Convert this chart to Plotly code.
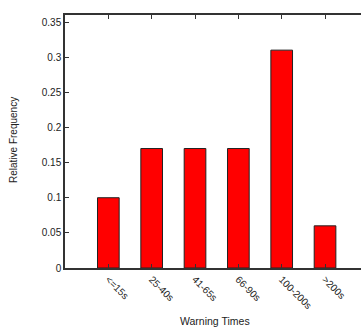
import plotly.graph_objects as go

categories = ["<=15s", "25-40s", "41-65s", "66-90s", "100-200s", ">200s"]
values = [0.10, 0.17, 0.17, 0.17, 0.31, 0.06]
y_ticks = [0, 0.05, 0.1, 0.15, 0.2, 0.25, 0.3, 0.35]
y_labels = ["0", "0.05", "0.1", "0.15", "0.2", "0.25", "0.3", "0.35"]

fig = go.Figure()
fig.add_trace(go.Bar(
    x=list(range(len(categories))), y=values, width=0.5,
    marker=dict(color="#ff0000", line=dict(color="#222222", width=1)),
))

fam = "Liberation Sans, Arial, sans-serif"
font = dict(family=fam, size=10, color="#222222")

W, H = 361, 329
ml, mr, mt, mb = 65, 0, 15, 61
pw, ph = W - ml - mr, H - mt - mb

def px_to_paper(px, py):
    return (px - ml) / pw, (H - mb - py) / ph

xt_x, xt_y = px_to_paper(215, 321)
yt_x, yt_y = px_to_paper(13, 140)

fig.update_layout(
    width=W, height=H,
    margin=dict(l=ml, r=mr, t=mt, b=mb),
    paper_bgcolor="white", plot_bgcolor="white",
    showlegend=False, font=font,
    xaxis=dict(
        range=[-1, 5.83], tickmode="array",
        tickvals=list(range(len(categories))), ticktext=categories,
        tickangle=45, ticks="inside", ticklen=4, tickcolor="#333333",
        showline=True, linecolor="#333333", linewidth=1.5, mirror="ticks",
        showgrid=False, zeroline=False, automargin=False,
    ),
    yaxis=dict(
        range=[0, 0.36], tickmode="array", tickvals=y_ticks, ticktext=y_labels,
        ticks="inside", ticklen=4, tickcolor="#333333",
        showline=True, linecolor="#333333", linewidth=1.5,
        showgrid=False, zeroline=False, automargin=False,
    ),
    annotations=[
        dict(text="Warning Times", xref="paper", yref="paper", x=xt_x, y=xt_y,
             xanchor="center", yanchor="middle", showarrow=False,
             font=dict(family=fam, size=10.5, color="#222222")),
        dict(text="Relative Frequency", xref="paper", yref="paper", x=yt_x, y=yt_y,
             xanchor="center", yanchor="middle", showarrow=False, textangle=-90,
             font=dict(family=fam, size=10, color="#222222")),
    ],
)

fig.write_html("out.html")
